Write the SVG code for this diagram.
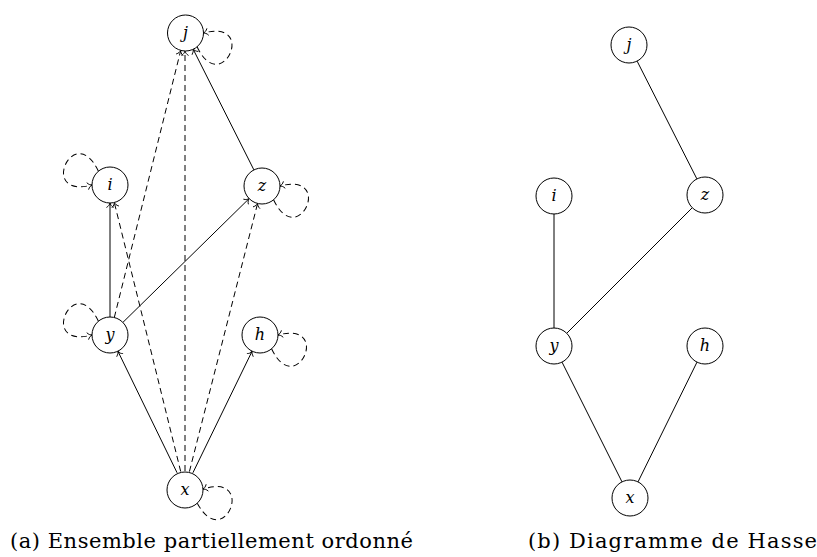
<svg xmlns="http://www.w3.org/2000/svg" width="817" height="557" viewBox="0 0 817 557">
<style>
.n{fill:#fff;stroke:#000;stroke-width:1}
.e{fill:none;stroke:#000;stroke-width:1}
.d{stroke-dasharray:6 4}
.a{marker-end:url(#arr)}
.t{font-family:"DejaVu Serif","Liberation Serif",serif;font-style:italic;font-size:16px;text-anchor:middle}
.c{font-family:"DejaVu Serif","Liberation Serif",serif;font-size:21px}
</style>
<defs>
<marker id="arr" markerUnits="userSpaceOnUse" markerWidth="12" markerHeight="12" viewBox="-6 -6 12 12" refX="0" refY="0" orient="auto" overflow="visible">
<path d="M-4.5,-3.6 C-3.2,-1.2 -1.2,-0.3 0,0 C-1.2,0.3 -3.2,1.2 -4.5,3.6" fill="none" stroke="#000" stroke-width="0.9" stroke-dasharray="none"/>
</marker>
<path id="loop" d="M16.3,7.6 C60,44 60,-44 16.3,-7.6"/>
</defs>
<g id="connectors">
<line class="e a" x1="177.1" y1="472.8" x2="117.9" y2="351.2"/>
<line class="e a" x1="192.9" y1="472.8" x2="252.1" y2="351.2"/>
<line class="e a" x1="110" y1="317" x2="110" y2="203"/>
<line class="e a" x1="122.9" y1="322.4" x2="249.1" y2="198.6"/>
<line class="e a" x1="253.9" y1="169.9" x2="193.1" y2="49.1"/>
<line class="e d a" x1="180.7" y1="471.5" x2="114.3" y2="202.5"/>
<line class="e d a" x1="189.4" y1="471.6" x2="257.6" y2="203.4"/>
<line class="e d a" x1="185" y1="471" x2="185" y2="51"/>
<line class="e d a" x1="114.3" y1="317.5" x2="180.7" y2="50.5"/>
<use href="#loop" class="e d a" transform="translate(185.5,33) rotate(25)"/>
<use href="#loop" class="e d a" transform="translate(262,186) rotate(25)"/>
<use href="#loop" class="e d a" transform="translate(260,335) rotate(25)"/>
<use href="#loop" class="e d a" transform="translate(185,490) rotate(22)"/>
<use href="#loop" class="e d a" transform="translate(110,185) rotate(205)"/>
<use href="#loop" class="e d a" transform="translate(110,335) rotate(205)"/>
<line class="e" x1="554" y1="214" x2="554" y2="328"/>
<line class="e" x1="566.7" y1="333.3" x2="692.3" y2="207.7"/>
<line class="e" x1="696.9" y1="178.9" x2="637.1" y2="61.1"/>
<line class="e" x1="562" y1="362.1" x2="622" y2="481.9"/>
<line class="e" x1="697" y1="362.1" x2="638" y2="481.9"/>
</g>
<g id="a-j"><circle class="n" cx="185.5" cy="33" r="18"/><text class="t" x="185.5" y="38">j</text></g>
<g id="a-i"><circle class="n" cx="110" cy="185" r="18"/><text class="t" x="110" y="190">i</text></g>
<g id="a-z"><circle class="n" cx="262" cy="186" r="18"/><text class="t" x="262" y="191">z</text></g>
<g id="a-y"><circle class="n" cx="110" cy="335" r="18"/><text class="t" x="110" y="340">y</text></g>
<g id="a-h"><circle class="n" cx="260" cy="335" r="18"/><text class="t" x="260" y="340">h</text></g>
<g id="a-x"><circle class="n" cx="185" cy="490" r="18"/><text class="t" x="185" y="495">x</text></g>
<g id="b-j"><circle class="n" cx="629" cy="45" r="18"/><text class="t" x="629" y="50">j</text></g>
<g id="b-i"><circle class="n" cx="554" cy="196" r="18"/><text class="t" x="554" y="201">i</text></g>
<g id="b-z"><circle class="n" cx="705" cy="195" r="18"/><text class="t" x="705" y="200">z</text></g>
<g id="b-y"><circle class="n" cx="554" cy="346" r="18"/><text class="t" x="554" y="351">y</text></g>
<g id="b-h"><circle class="n" cx="705" cy="346" r="18"/><text class="t" x="705" y="351">h</text></g>
<g id="b-x"><circle class="n" cx="630" cy="498" r="18"/><text class="t" x="630" y="503">x</text></g>
<text class="c" x="10" y="548" textLength="403">(a) Ensemble partiellement ordonné</text>
<text class="c" x="528" y="548" textLength="289">(b) Diagramme de Hasse</text>
</svg>
